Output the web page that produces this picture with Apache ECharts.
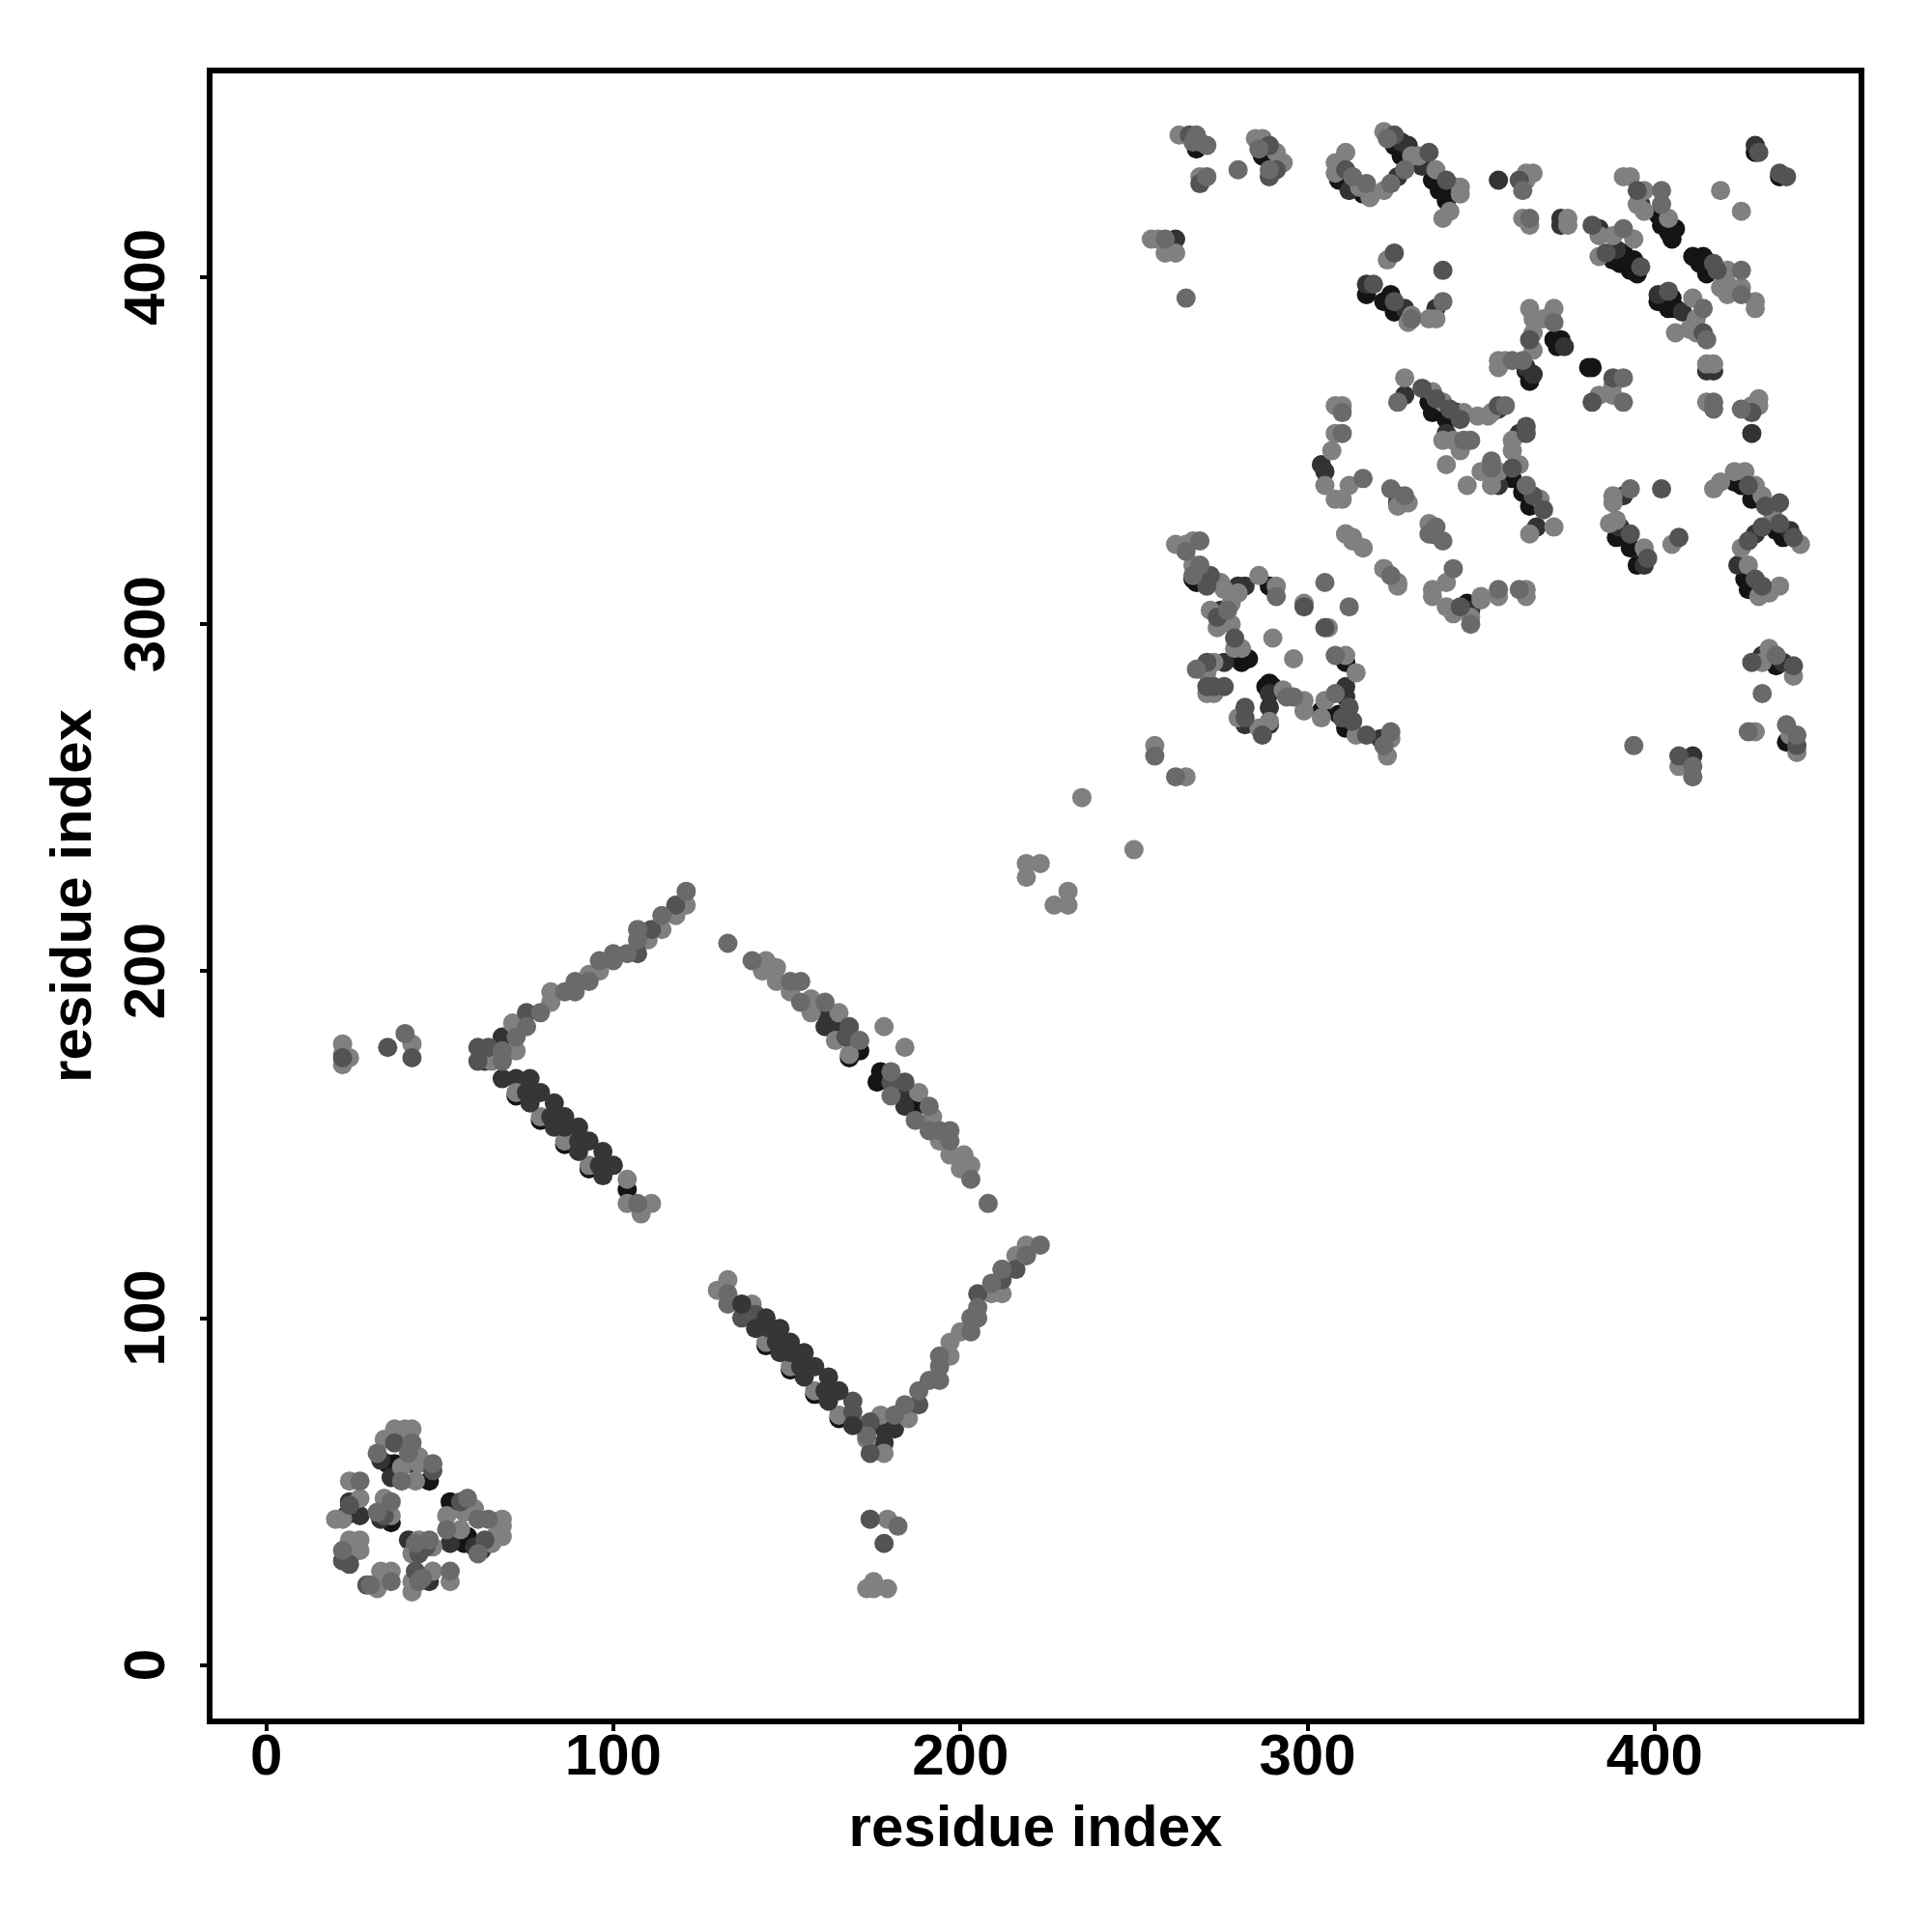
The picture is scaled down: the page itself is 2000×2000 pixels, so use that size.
<!DOCTYPE html>
<html>
<head>
<meta charset="utf-8">
<style>html,body{margin:0;padding:0;background:#fff}#c{width:2000px;height:2000px}</style>
<script src="https://cdn.jsdelivr.net/npm/echarts@6/dist/echarts.min.js"></script>
</head>
<body>
<div id="c"></div>
<script>
var tickValues = [0, 100, 200, 300, 400];
var axisName = 'residue index';

var blackPoints = [
[35,58],[37,58],[47,53],[23,43],[36,41],[58,37],[57,35],[53,47],
[72,164],[79,157],[86,150],[93,143],[144,92],[151,85],[158,78],[165,71],[104,137],
[168,175],[171,177],[177,171],[176,168],[187,161],
[268,312],[280,291],[283,290],[281,289],[289,311],[289,283],[290,282],[288,282],[304,275],[311,289],[311,270],[309,274],[267,313],
[268,437],[287,435],[309,428],[316,424],[325,438],[327,435],[336,428],[338,425],[342,426],[340,422],[317,395],[324,395],[322,393],[325,390],
[371,382],[373,382],[372,380],[364,370],[363,373],[401,418],[402,415],[406,414],[404,413],[405,411],[388,405],[391,407],[390,404],[394,405],[393,402],[395,401],[401,393],[405,394],[404,391],[406,391],
[411,406],[414,406],[413,404],[415,401],[381,374],[382,374],[335,364],[336,361],[340,359],[343,361],[359,342],[362,338],[364,334],[389,325],[395,317],[393,322],[423,341],[425,340],[428,336],[435,327],[437,325],[426,313],[427,310],[435,288],[336,326],[346,306],[429,436],[436,429],[438,266]
];
var darkPoints = [
[33,59],[36,54],[42,58],[24,47],[27,43],[33,42],[24,31],[43,24],[47,24],[41,36],[53,35],[60,34],[62,33],
[68,181],[63,174],[68,169],[72,169],[181,68],[178,68],[178,64],
[161,188],[161,184],[164,184],[184,164],[184,161],
[280,311],[282,311],[275,304],[276,289],[289,280],[311,282],[311,279],[321,267],[289,276],[289,271],[282,271],
[327,439],[329,438],[333,432],[262,411],[312,425],[326,429],[317,398],[328,391],[337,391],[355,428],[363,374],[365,372],[374,380],[373,417],[373,415],
[384,414],[389,408],[396,421],[401,395],[408,390],[421,396],[429,438],[415,373],[417,373],[428,355],
[304,346],[305,344],[328,366],[340,355],[347,304],[355,362],[361,355],[355,340],[366,328],[326,337],[326,335],[391,337],[390,328],[397,317],[439,327],[429,326],[424,317],[431,291],[437,289],[411,262]
];
var midPoints = [
[37,64],[48,56],[24,46],[34,43],[22,30],[24,29],[29,23],[43,27],[46,34],[44,32],[56,47],[63,36],
[22,175],[35,178],[42,175],[118,219],[111,212],[107,205],[75,188],[64,178],[61,178],[61,174],
[174,42],[178,35],[137,100],[141,101],[169,76],[169,73],[174,70],[174,61],[188,75],[205,107],[212,111],[216,114],[219,118],
[168,184],[167,181],[180,168],[184,168],
[272,314],[271,311],[274,302],[279,296],[271,289],[271,282],[273,282],[276,282],[299,305],[305,299],[312,276],[310,273],[313,272],[317,268],[287,268],[282,276],[282,273],
[269,427],[289,438],[289,429],[291,431],[266,441],[325,441],[340,428],[335,436],[325,407],[339,402],[319,398],[325,393],[311,431],[364,382],[361,428],
[382,415],[386,407],[396,403],[395,425],[404,396],[414,384],[418,402],[417,404],[430,436],[436,430],[438,429],
[388,371],[382,364],[402,339],[407,325],[393,326],[398,319],[427,340],[432,334],[436,335],[436,329],[440,325],[431,328],[427,324],[429,313],[431,311],[428,361],[441,265],[428,289],[440,288],
[333,368],[337,365],[341,362],[344,359],[355,363],[363,357],[363,355],[359,345],[365,337],[368,333],[344,305],[407,262]
];
var greyPoints = [
[42,64],[32,61],[41,61],[48,58],[39,53],[27,53],[36,47],[32,44],[22,33],[36,24],[30,23],[44,24],[45,25],[53,27],[47,36],[43,35],[58,48],[61,42],[64,42],[52,39],[61,32],
[40,182],[121,223],[114,216],[107,212],[107,209],[104,205],[100,205],[100,203],[96,203],[93,197],[89,197],[89,194],[86,194],[79,188],[75,184],[72,181],[68,177],[68,174],[107,133],
[133,107],[133,104],[173,66],[181,72],[182,40],[184,75],[188,79],[191,82],[194,82],[194,86],[194,89],[203,96],[205,100],[203,100],[205,103],[212,114],[219,118],[223,121],[209,110],
[133,208],[140,203],[151,197],[154,197],[154,191],[161,191],[171,180],[180,171],[180,164],[187,157],[191,161],[191,154],[194,154],[197,154],[197,151],[203,140],[208,133],
[269,324],[265,321],[269,317],[267,314],[277,304],[268,287],[291,308],[305,312],[312,305],[308,291],[294,279],[296,279],[308,280],[324,269],[322,265],[256,262],[262,256],
[259,411],[271,429],[280,431],[268,441],[267,439],[271,438],[286,437],[289,431],[265,394],[313,429],[317,427],[324,427],[328,431],[323,440],[330,388],[339,393],[364,417],[362,425],[371,387],[359,376],[362,376],
[391,414],[402,425],[402,421],[414,391],[415,382],[425,402],[425,395],[417,364],[417,362],[425,362],[391,371],[391,364],
[393,339],[310,361],[310,355],[316,342],[326,364],[324,339],[328,337],[337,328],[335,326],[339,324],[324,314],[342,316],[355,310],[361,310],[345,353],[347,353],[357,363],[353,347],[353,345],[363,340],[347,300],
[438,271],[441,268],[435,291],[394,265],[431,280],[427,269],[411,259],[411,256]
];
var lightPoints = [
[37,68],[40,68],[42,68],[34,65],[39,57],[44,60],[44,58],[43,53],[24,53],[27,48],[20,42],[22,42],[34,48],[36,43],[24,36],[27,36],[24,33],[27,33],[33,27],[36,27],[33,24],[32,22],[42,21],[42,24],[48,27],[53,24],[44,36],[48,34],[42,32],[60,45],[57,44],[52,43],[68,42],[68,40],[68,37],[56,39],[65,35],[66,37],
[22,179],[22,176],[24,175],[22,173],[42,179],[121,219],[118,216],[114,212],[110,209],[96,200],[93,199],[82,194],[82,191],[71,185],[72,177],[65,174],
[72,165],[79,158],[86,151],[93,144],[104,140],[104,133],[111,133],[108,130],
[133,111],[130,108],[140,104],[144,93],[151,86],[158,79],[165,72],[172,69],[177,72],[173,65],[178,61],[185,71],[197,89],[197,93],[200,96],[209,107],[212,107],[212,114],[216,118],[219,121],
[179,42],[175,24],[173,22],[175,22],[179,22],
[143,200],[144,203],[147,201],[147,197],[151,194],[157,192],[157,188],[165,188],[164,180],[168,176],[178,184],[184,178],[188,165],[192,158],[194,151],[197,147],[201,147],[200,143],[203,144],
[219,227],[219,231],[223,231],[227,219],[231,219],[231,223],[235,250],[250,235],[256,265],[265,256],
[262,323],[265,323],[267,324],[267,317],[275,312],[276,310],[280,309],[278,306],[272,304],[274,299],[278,300],[279,293],[281,293],[273,289],[271,286],[271,280],[273,280],
[286,314],[291,311],[299,306],[306,299],[290,296],[296,290],[311,291],[314,286],[293,281],[299,278],[299,275],[304,273],[305,278],[289,272],[280,273],[286,270],[314,268],[323,262],[324,267],
[311,326],[313,325],[316,322],[322,316],[326,312],
[263,441],[269,439],[269,429],[285,440],[287,440],[291,436],[293,433],[255,411],[257,411],[259,407],[262,407],
[311,436],[308,433],[308,430],[315,426],[318,423],[322,425],[322,442],[330,435],[332,435],[337,431],[344,426],[344,424],[341,419],[339,417],[323,405],[330,389],[329,387],[335,388],[337,388],
[363,430],[365,430],[363,428],[362,417],[364,415],[375,417],[375,415],[364,391],[371,391],[365,388],[368,388],[365,384],[365,379],[355,374],[357,376],[355,376],[328,371],[336,367],
[419,425],[425,419],[391,429],[393,429],[397,425],[395,421],[397,419],[404,417],[384,412],[388,412],[394,411],[384,406],[411,394],[406,384],[410,385],[412,388],[412,384],[415,375],[417,375],[421,402],[421,398],[419,397],[421,395],[425,397],[429,393],[429,391],
[308,363],[310,363],[308,355],[307,350],[305,340],[312,340],[308,336],[310,336],[326,334],[329,335],[335,329],[311,326],[313,324],[316,322],[322,316],[326,311],
[339,364],[345,361],[342,353],[344,350],[339,353],[340,346],[346,340],[349,360],[352,360],[353,361],[359,353],[359,350],[350,344],[355,344],[353,340],[361,346],[367,336],[364,326],[371,328],
[340,312],[336,310],[336,308],[340,305],[342,303],[347,302],[350,307],[350,308],[355,308],[363,310],[363,308],
[415,364],[430,365],[428,363],[430,363],[388,369],[384,366],[388,366],[388,337],[388,335],[405,323],[387,329],[389,330],[397,322],
[417,339],[419,341],[423,344],[426,344],[429,340],[431,337],[434,332],[442,323],[425,322],[427,317],[433,309],[430,308],[436,311],
[433,293],[431,289],[440,285],[429,269],[439,268],[441,263],[407,259]
];
var strandPoints = [
[76,169],[75,165],[79,165],[76,162],[83,162],[82,158],[86,158],[83,155],[90,155],[86,155],[90,151],[93,151],[90,148],[97,148],[96,144],[100,144],[97,141],
[137,104],[141,97],[144,100],[145,97],[148,97],[147,93],[151,93],[148,90],[155,90],[151,90],[154,86],[158,86],[155,83],[162,83],[161,79],[165,79],[162,76],[169,69]
];

var tiers = [
  {data: blackPoints, color: '#141414'},
  {data: darkPoints, color: '#333333'},
  {data: lightPoints, color: '#808080'},
  {data: midPoints, color: '#535353'},
  {data: greyPoints, color: '#6a6a6a'},
  {data: strandPoints, color: '#363636'}
];

function makeAxis(isY) {
  return {
    type: 'value', min: -16.3, max: 459.6,
    name: axisName, nameLocation: 'middle',
    nameGap: isY ? 110 : 82,
    nameRotate: isY ? 90 : 0,
    nameTextStyle: {fontFamily: 'Liberation Sans', fontWeight: 'bold', fontSize: 60, color: '#000'},
    axisLine: {show: false, onZero: false},
    splitLine: {show: false},
    axisTick: {show: true, length: 10, customValues: tickValues, lineStyle: {color: '#000', width: 4}},
    axisLabel: {
      show: true, customValues: tickValues, rotate: isY ? 90 : 0, margin: isY ? 64 : 8,
      fontFamily: 'Liberation Sans', fontWeight: 'bold', fontSize: 60, color: '#000',
      verticalAlign: isY ? 'middle' : 'top', align: 'center', hideOverlap: false
    }
  };
}

var chart = echarts.init(document.getElementById('c'), null, {renderer: 'canvas', width: 2000, height: 2000});
chart.setOption({
  animation: false,
  backgroundColor: '#fff',
  grid: {left: 217, right: 73, top: 73, bottom: 218, show: true, borderColor: '#000', borderWidth: 6, backgroundColor: 'transparent', containLabel: false},
  xAxis: makeAxis(false),
  yAxis: makeAxis(true),
  series: tiers.map(function (t) {
    return {type: 'scatter', data: t.data, symbol: 'circle', symbolSize: 20, silent: true,
      itemStyle: {color: t.color, opacity: 1}};
  })
});
</script>
</body>
</html>
